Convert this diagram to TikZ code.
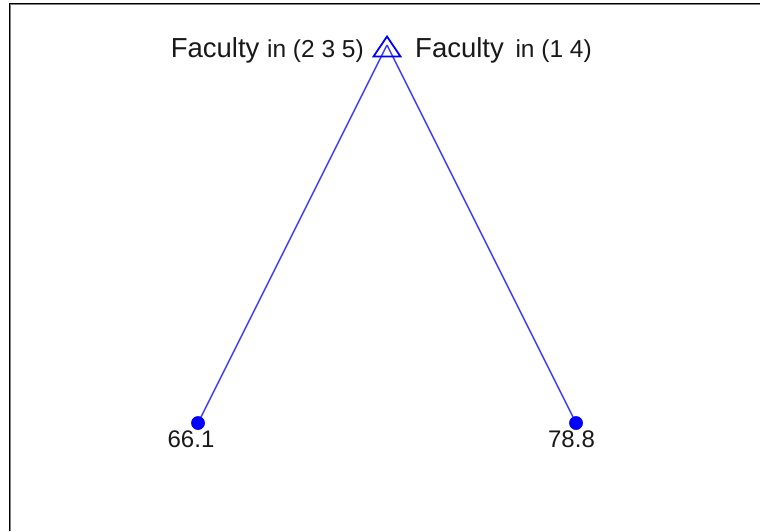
\documentclass[tikz,border=0pt]{standalone}
\usepackage{fontspec}
\setmainfont{Liberation Sans}
\definecolor{edgeblue}{RGB}{60,60,255}
\definecolor{txt}{RGB}{25,25,25}
\begin{document}
\begin{tikzpicture}[x=1pt,y=-1pt,
  edge/.style={draw=edgeblue,line width=1.4pt},
  leafdot/.style={circle,fill=blue,inner sep=0pt,minimum size=13.5pt},
  lbl/.style={text=txt,inner sep=0pt,font=\fontsize{24}{28}\selectfont}]
\useasboundingbox (0,0) rectangle (760,531);
\fill[white] (0,0) rectangle (760,531);
% frame
\draw[black,line width=1pt] (9.5,531) -- (9.5,3.2) -- (760,3.2);
\draw[gray,line width=1pt] (10.5,531) -- (10.5,4.2) -- (760,4.2);
% nodes
\coordinate (root) at (387,45);
\node[leafdot] (l) at (198,423) {};
\node[leafdot] (r) at (576,423) {};
\draw[edge] (root) -- (l.center);
\draw[edge] (root) -- (r.center);
\node[leafdot] at (l.center) {};
\node[leafdot] at (r.center) {};
% triangle marker
\draw[blue,line width=1.8pt,line join=miter] (387,36.5) -- (373.5,56.5) -- (400.5,56.5) -- cycle;
% labels
\node[lbl,anchor=base east] (ll) at (364,57) {{\fontsize{27.5}{30}\selectfont Faculty}\hspace{1pt} {\fontsize{24.5}{28}\selectfont in (2 3 5)}};
\node[lbl,anchor=base west] (rl) at (415,57) {{\fontsize{27.5}{30}\selectfont Faculty}\hspace{5pt} {\fontsize{24.5}{28}\selectfont in (1 4)}};
\node[lbl,anchor=base] (n1) at (191,447) {66.1};
\node[lbl,anchor=base] (n2) at (571.5,447) {78.8};
\end{tikzpicture}
\end{document}
